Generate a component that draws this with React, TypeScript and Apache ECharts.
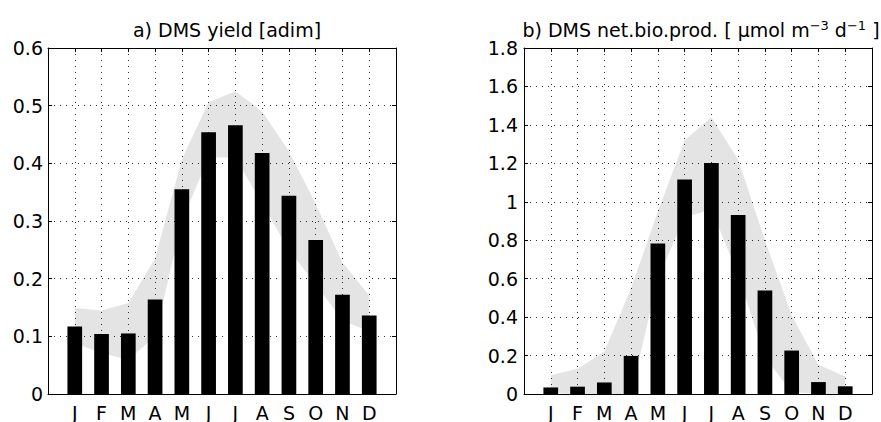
import React, { useEffect, useRef } from "react";
import * as echarts from "echarts";

const months = ["J", "F", "M", "A", "M", "J", "J", "A", "S", "O", "N", "D"];

// a) DMS yield [adim]
const yieldBars = [0.117, 0.104, 0.105, 0.164, 0.355, 0.454, 0.466, 0.418, 0.344, 0.267, 0.172, 0.136];
const yieldUpper = [0.149, 0.145, 0.158, 0.235, 0.407, 0.506, 0.525, 0.49, 0.421, 0.33, 0.228, 0.171];
const yieldLower = [0.088, 0.071, 0.059, 0.1, 0.3, 0.41, 0.41, 0.33, 0.25, 0.19, 0.128, 0.108];

// b) DMS net.bio.prod. [umol m-3 d-1]
const prodBars = [0.034, 0.038, 0.06, 0.198, 0.783, 1.116, 1.202, 0.931, 0.538, 0.226, 0.062, 0.04];
const prodUpper = [0.097, 0.131, 0.221, 0.55, 0.95, 1.32, 1.44, 1.22, 0.8, 0.41, 0.152, 0.091];
const prodLower = [0.005, 0.0, 0.0, 0.0, 0.6, 0.92, 0.96, 0.62, 0.19, 0.01, 0.0, 0.0];

const FONT = "DejaVu Sans";
const FS = 19;

function bandData(lo: number[], up: number[]) {
  return months.map((_, i) => [i + 1, lo[i], up[i]]);
}

function bandRender(params: any, api: any) {
  if (params.dataIndex !== 0) return null;
  const n = params.dataInsideLength ?? months.length;
  const data: number[][] = (params as any).__all;
  return null;
}

export default function App() {
  const ref = useRef<HTMLDivElement>(null);
  useEffect(() => {
    if (!ref.current) return;
    const chart = echarts.init(ref.current, null, { renderer: "svg" });

    const makeBand = (lo: number[], up: number[], gi: number) => ({
      type: "custom",
      xAxisIndex: gi * 2,
      yAxisIndex: gi * 2,
      z: 1,
      silent: true,
      data: bandData(lo, up),
      encode: { x: 0, y: [1, 2] },
      renderItem: (params: any, api: any) => {
        if (params.dataIndex !== 0) return null;
        const pts: number[][] = [];
        for (let i = 0; i < months.length; i++) pts.push(api.coord([i + 1, up[i]]));
        for (let i = months.length - 1; i >= 0; i--) pts.push(api.coord([i + 1, lo[i]]));
        return {
          type: "polygon",
          shape: { points: pts },
          style: { fill: "rgba(0,0,0,0.105)", stroke: "none" },
        };
      },
    });

    const bottomX = (gi: number) => ({
      gridIndex: gi,
      type: "value",
      min: 0,
      max: 13,
      interval: 1,
      position: "bottom",
      axisLine: { show: true, onZero: false, lineStyle: { color: "#000", width: 1 } },
      axisTick: { show: true, inside: true, length: 4, lineStyle: { color: "#000" } },
      axisLabel: {
        show: true,
        margin: 9,
        color: "#000",
        fontFamily: FONT,
        fontSize: FS,
        formatter: (v: number) => {
          const k = Math.round(v);
          return k >= 1 && k <= 12 ? months[k - 1] : "";
        },
      },
      splitLine: { show: true, lineStyle: { color: "#333", width: 1, type: [1, 5] } },
    });
    const topX = (gi: number) => ({
      gridIndex: gi,
      type: "value",
      min: 0,
      max: 13,
      interval: 1,
      position: "top",
      axisLine: { show: true, onZero: false, lineStyle: { color: "#000", width: 1 } },
      axisTick: { show: true, inside: true, length: 4, lineStyle: { color: "#000" } },
      axisLabel: { show: false },
      splitLine: { show: false },
    });
    const leftY = (gi: number, max: number, interval: number, margin: number) => ({
      gridIndex: gi,
      type: "value",
      min: 0,
      max,
      interval,
      position: "left",
      axisLine: { show: true, onZero: false, lineStyle: { color: "#000", width: 1 } },
      axisTick: { show: true, inside: true, length: 4, lineStyle: { color: "#000" } },
      axisLabel: {
        show: true,
        margin,
        color: "#000",
        fontFamily: FONT,
        fontSize: FS,
        formatter: (v: number) => String(+v.toFixed(1)),
      },
      splitLine: { show: true, lineStyle: { color: "#333", width: 1, type: [1, 5] } },
    });
    const rightY = (gi: number, max: number, interval: number) => ({
      gridIndex: gi,
      type: "value",
      min: 0,
      max,
      interval,
      position: "right",
      axisLine: { show: true, onZero: false, lineStyle: { color: "#000", width: 1 } },
      axisTick: { show: true, inside: true, length: 4, lineStyle: { color: "#000" } },
      axisLabel: { show: false },
      splitLine: { show: false },
    });

    const option: any = {
      animation: false,
      backgroundColor: "#fff",
      title: [
        {
          text: "a) DMS yield [adim]",
          left: 222,
          top: 14,
          textAlign: "center",
          textStyle: { fontFamily: FONT, fontSize: FS, fontWeight: "normal", color: "#000", lineHeight: 22 },
        },
        {
          text: "b) DMS net.bio.prod. [ μmol m{sup|−3} d{sup|−1} ]",
          left: 696,
          top: 14,
          textAlign: "center",
          textStyle: {
            fontFamily: FONT,
            fontSize: FS,
            fontWeight: "normal",
            color: "#000",
            lineHeight: 22,
            rich: {
              sup: { fontFamily: FONT, fontSize: 13, color: "#000", lineHeight: 22, padding: [0, 0, 10, 0] },
            },
          },
        },
      ],
      grid: [
        { left: 48, top: 48, width: 348, height: 348, show: false },
        { left: 524, top: 48, width: 348, height: 348, show: false },
      ],
      xAxis: [bottomX(0), topX(0), bottomX(1), topX(1)],
      yAxis: [leftY(0, 0.6, 0.1, 5), rightY(0, 0.6, 0.1), leftY(1, 1.8, 0.2, 6), rightY(1, 1.8, 0.2)],
      series: [
        makeBand(yieldLower, yieldUpper, 0),
        {
          type: "bar",
          xAxisIndex: 0,
          yAxisIndex: 0,
          z: 2,
          barWidth: 14.7,
          itemStyle: { color: "#000" },
          data: yieldBars.map((v, i) => [i + 1, v]),
        },
        makeBand(prodLower, prodUpper, 1),
        {
          type: "bar",
          xAxisIndex: 2,
          yAxisIndex: 2,
          z: 2,
          barWidth: 14.7,
          itemStyle: { color: "#000" },
          data: prodBars.map((v, i) => [i + 1, v]),
        },
      ],
    };
    chart.setOption(option);
    return () => chart.dispose();
  }, []);
  return <div ref={ref} style={{ position: "fixed", left: 0, top: 0, width: 881, height: 422 }} />;
}
